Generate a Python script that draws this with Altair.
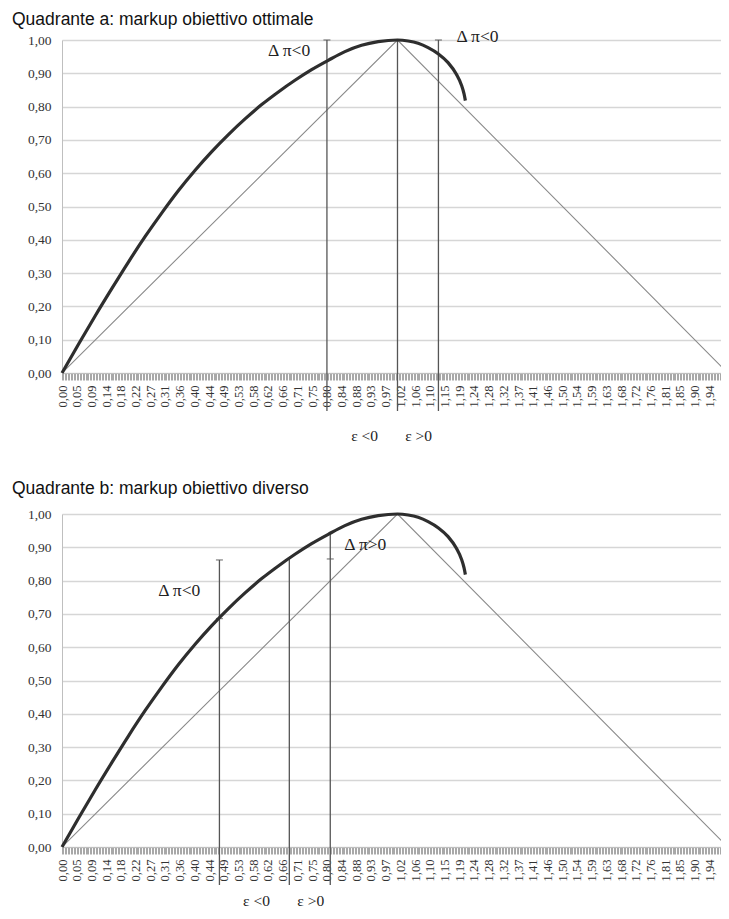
import altair as alt
import pandas as pd

# ---------------- data ----------------
x_labels = ["0,00", "0,05", "0,09", "0,14", "0,18", "0,22", "0,27", "0,31", "0,36", "0,40",
            "0,44", "0,49", "0,53", "0,58", "0,62", "0,66", "0,71", "0,75", "0,80", "0,84",
            "0,88", "0,93", "0,97", "1,02", "1,06", "1,10", "1,15", "1,19", "1,24", "1,28",
            "1,32", "1,37", "1,41", "1,46", "1,50", "1,54", "1,59", "1,63", "1,68", "1,72",
            "1,76", "1,81", "1,85", "1,90", "1,94", "1,98"]
label_step = 0.0442
tick_step = 0.00442
x_max = 1.98
y_ticks = [0.0, 0.1, 0.2, 0.3, 0.4, 0.5, 0.6, 0.7, 0.8, 0.9, 1.0]

curve_x = [0.0, 0.05, 0.10, 0.15, 0.20, 0.25, 0.30, 0.35, 0.40, 0.45, 0.50, 0.55, 0.60,
           0.65, 0.70, 0.75, 0.80, 0.85, 0.90, 0.95, 1.008,
           1.04, 1.07, 1.10, 1.131, 1.16, 1.185, 1.20, 1.208, 1.212]
curve_y = [0.0, 0.087, 0.172, 0.254, 0.334, 0.410, 0.481, 0.548, 0.609, 0.665, 0.716, 0.763, 0.806,
           0.844, 0.879, 0.911, 0.939, 0.965, 0.984, 0.995, 1.000,
           0.997, 0.990, 0.977, 0.958, 0.932, 0.897, 0.865, 0.838, 0.818]

diag_x = [0.0, 1.008, 2.0]
diag_y = [0.0, 1.0, 0.0]

a_title = "Quadrante a: markup obiettivo ottimale"
a_rule_x = [0.796, 1.008, 1.131]
a_rule_top = [1.0, 1.0, 1.0]
a_cap_x = [0.796, 1.131]
a_cap_y = [1.0, 1.0]
a_delta_text = ["Δ π<0", "Δ π<0"]
a_delta_x = [0.619, 1.185]
a_delta_y = [0.967, 1.009]
a_eps_text = ["ε <0", "ε >0"]
a_eps_x = [0.869, 1.031]
a_eps_y = [-0.189, -0.189]

b_title = "Quadrante b: markup obiettivo diverso"
b_rule_x = [0.473, 0.683, 0.806]
b_rule_top = [0.862, 0.866, 0.942]
b_cap_x = [0.473, 0.473, 0.806]
b_cap_y = [0.862, 0.686, 0.865]
b_delta_text = ["Δ π<0", "Δ π>0"]
b_delta_x = [0.289, 0.848]
b_delta_y = [0.769, 0.906]
b_eps_text = ["ε <0", "ε >0"]
b_eps_x = [0.544, 0.707]
b_eps_y = [-0.162, -0.162]

# ---------------- build ----------------
W = 659
dense = [round(k * tick_step, 5) for k in range(0, 1000) if k * tick_step <= x_max]
labels_js = "[" + ",".join("'" + s + "'" for s in x_labels) + "]"
is_major = "round(datum.value/%g) %% 10 == 0" % tick_step
label_expr = "(%s) ? %s[round(datum.value/%g)] : ''" % (is_major, labels_js, label_step)

xscale = alt.Scale(domain=[0, x_max], nice=False, zero=False)
yscale = alt.Scale(domain=[0, 1], nice=False, zero=False)

x_axis = alt.Axis(values=dense, labelExpr=label_expr, labelAngle=-90,
                  labelFont="Liberation Serif",
                  labelFontSize={"condition": {"test": is_major, "value": 12.5}, "value": 0},
                  labelColor="#333333",
                  labelPadding=5, labelOverlap=False, labelFlush=False,
                  tickSize=7, tickColor="#a8a8a8", tickWidth=1,
                  domainColor="#bfbfbf", grid=False, title=None)
y_axis = alt.Axis(values=y_ticks, labelExpr="replace(format(datum.value, '.2f'), '.', ',')",
                  labelFont="Liberation Serif", labelFontSize=13.5, labelColor="#333333",
                  labelPadding=11, ticks=False, domainColor="#bfbfbf",
                  gridColor="#d6d6d6", gridWidth=1.5, title=None)

X = alt.X("x:Q", scale=xscale, axis=x_axis)
Y = alt.Y("y:Q", scale=yscale, axis=y_axis)

curve_df = pd.DataFrame({"x": curve_x, "y": curve_y})
diag_df = pd.DataFrame({"x": diag_x, "y": diag_y, "i": list(range(len(diag_x)))})


def panel(title, rx, rtop, cx, cy, dt, dx_, dy_, et, ex, ey, H, offset):
    diag = alt.Chart(diag_df).mark_line(color="#8a8a8a", strokeWidth=1.1, clip=True).encode(
        x=X, y=Y, order="i:Q")
    rules = alt.Chart(pd.DataFrame({"x": rx, "y": rtop})).mark_rule(
        color="#555555", strokeWidth=1.3, clip=False).encode(
        x=X, y=Y, y2=alt.value(H + 38))
    caps = alt.Chart(pd.DataFrame({"x": cx, "y": cy})).mark_tick(
        orient="horizontal", size=7, thickness=1.3, color="#555555", clip=False).encode(
        x=X, y=Y)
    curve = alt.Chart(curve_df).mark_line(
        color="#2e2e2e", strokeWidth=3.2, interpolate="monotone", clip=False).encode(
        x=X, y=Y)
    dtexts = alt.Chart(pd.DataFrame({"t": dt, "x": dx_, "y": dy_})).mark_text(
        align="left", baseline="middle", font="Liberation Serif", fontSize=17.5,
        color="#222222", clip=False).encode(x=X, y=Y, text="t:N")
    etexts = alt.Chart(pd.DataFrame({"t": et, "x": ex, "y": ey})).mark_text(
        align="left", baseline="middle", font="Liberation Serif", fontSize=15.5,
        color="#222222", clip=False).encode(x=X, y=Y, text="t:N")
    return alt.layer(diag, rules, caps, curve, dtexts, etexts).properties(
        width=W, height=H,
        title=alt.TitleParams(text=title, anchor="start", frame="group", dx=-50,
                              font="Liberation Sans", fontSize=17.5, fontWeight="normal",
                              color="#111111", offset=offset),
    )


top = panel(a_title, a_rule_x, a_rule_top, a_cap_x, a_cap_y,
            a_delta_text, a_delta_x, a_delta_y, a_eps_text, a_eps_x, a_eps_y, 333, -0.5)
bot = panel(b_title, b_rule_x, b_rule_top, b_cap_x, b_cap_y,
            b_delta_text, b_delta_x, b_delta_y, b_eps_text, b_eps_x, b_eps_y, 333, 10)

chart = alt.vconcat(top, bot, spacing=34).properties(
    padding={"left": 4, "top": 3, "right": 0, "bottom": 0}
).configure_view(stroke=None)

chart.save("out.html", embed_options={"renderer": "svg", "actions": False})
